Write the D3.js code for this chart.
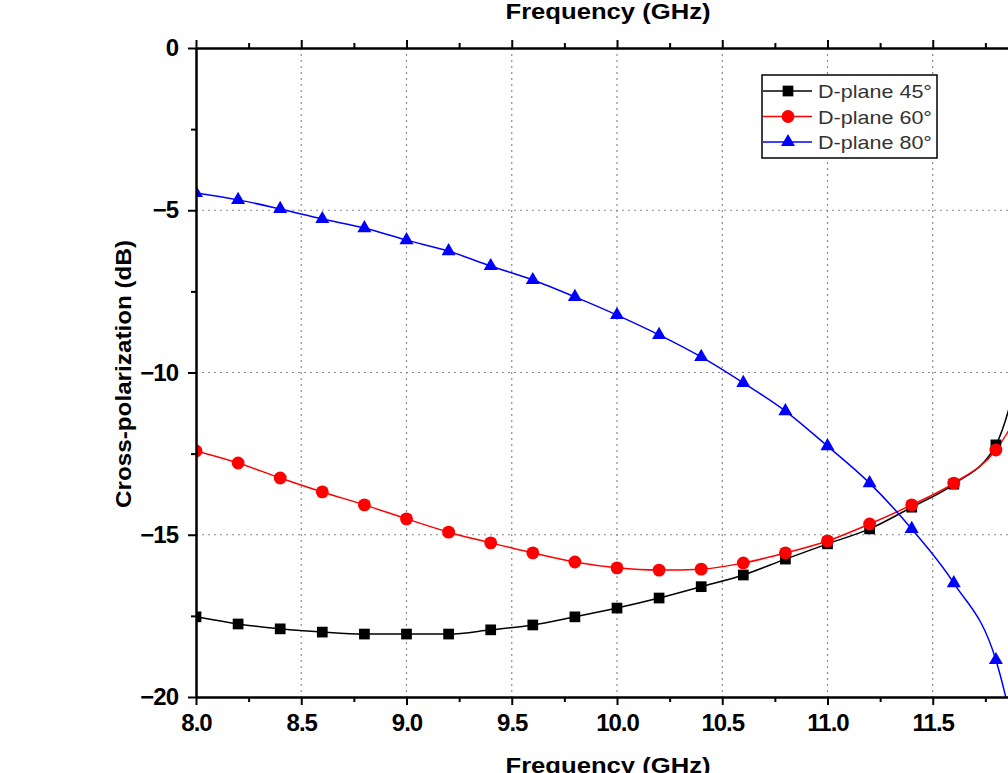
<!DOCTYPE html>
<html>
<head>
<meta charset="utf-8">
<script src="https://cdn.jsdelivr.net/npm/d3@7"></script>
<style>
  body { margin: 0; background: #fff; }
  svg { display: block; }
  text { font-family: "Liberation Sans", Arial, sans-serif; }
</style>
</head>
<body>
<svg id="chart" width="1008" height="773"></svg>
<script>
// frequency points (GHz)
const freqs = [8.0, 8.2, 8.4, 8.6, 8.8, 9.0, 9.2, 9.4, 9.6, 9.8, 10.0,
               10.2, 10.4, 10.6, 10.8, 11.0, 11.2, 11.4, 11.6, 11.8, 12.0];

// cross-polarization (dB)
const dplane45 = [-17.53, -17.75, -17.90, -18.00, -18.06, -18.06, -18.06, -17.93, -17.78, -17.53, -17.26,
                  -16.95, -16.60, -16.24, -15.75, -15.28, -14.82, -14.15, -13.44, -12.23, -7.0];
const dplane60 = [-12.42, -12.79, -13.25, -13.68, -14.08, -14.51, -14.92, -15.25, -15.56, -15.84, -16.02,
                  -16.09, -16.06, -15.87, -15.56, -15.19, -14.67, -14.08, -13.41, -12.39, -10.0];
const dplane80 = [-4.47, -4.68, -4.96, -5.27, -5.55, -5.92, -6.26, -6.72, -7.15, -7.67, -8.23,
                  -8.84, -9.52, -10.32, -11.19, -12.27, -13.41, -14.82, -16.49, -18.86, -25.0];

const seriesNames = ['D-plane 45°', 'D-plane 60°', 'D-plane 80°'];
const seriesColors = ['#000000', '#ff0000', '#0000ff'];
const seriesSymbols = [d3.symbolSquare, d3.symbolCircle, d3.symbolTriangle];

const xTicks = [8.0, 8.5, 9.0, 9.5, 10.0, 10.5, 11.0, 11.5, 12.0];
const yTicks = [0, -5, -10, -15, -20];

const svg = d3.select('#chart');
const mLeft = 196, mRight = 1038, mTop = 48, mBottom = 697;

const x = d3.scaleLinear().domain([8, 12]).range([mLeft, mRight]);
const y = d3.scaleLinear().domain([0, -20]).range([mTop, mBottom]);

const fontTick = 'bold 24px "Liberation Sans", Arial, sans-serif';
const fontTitle = 'bold 22px "Liberation Sans", Arial, sans-serif';

// grid
const grid = svg.append('g').attr('stroke', '#8a8a8a').attr('stroke-width', 1.2)
    .attr('stroke-dasharray', '2,4');
grid.selectAll('.gx').data(xTicks.slice(1, -1)).join('line')
    .attr('x1', d => x(d)).attr('x2', d => x(d))
    .attr('y1', mTop).attr('y2', mBottom);
grid.selectAll('.gy').data(yTicks.slice(1, -1)).join('line')
    .attr('x1', mLeft).attr('x2', mRight)
    .attr('y1', d => y(d)).attr('y2', d => y(d));

// clipped data area
svg.append('clipPath').attr('id', 'plot-clip')
    .append('rect').attr('x', mLeft).attr('y', mTop - 6)
    .attr('width', mRight - mLeft).attr('height', mBottom - mTop + 6);

const series = [dplane45, dplane60, dplane80];
const plot = svg.append('g').attr('clip-path', 'url(#plot-clip)');

const line = d3.line()
    .x((d, i) => x(freqs[i]))
    .y(d => y(d))
    .curve(d3.curveMonotoneX);

const symSize = [115, 130, 85];

series.forEach((vals, s) => {
    plot.append('path')
        .datum(vals)
        .attr('d', line)
        .attr('fill', 'none')
        .attr('stroke', seriesColors[s])
        .attr('stroke-width', 1.5);
});

series.forEach((vals, s) => {
    const sym = d3.symbol().type(seriesSymbols[s]).size(symSize[s]);
    plot.selectAll('.m' + s).data(vals).join('path')
        .attr('class', 'm' + s)
        .attr('transform', (d, i) => `translate(${x(freqs[i])},${y(d)})`)
        .attr('d', sym)
        .attr('fill', seriesColors[s]);
});

// axes
const xBottom = d3.axisBottom(x).tickValues(xTicks).tickSize(8).tickSizeOuter(0)
    .tickFormat(d => d < 12 ? d3.format('.1f')(d) : '');
const xBottomMinor = d3.axisBottom(x).tickValues(d3.range(8.25, 12, 0.5)).tickSize(5)
    .tickSizeOuter(0).tickFormat('');
const xTop = d3.axisTop(x).tickValues(xTicks).tickSize(8).tickSizeOuter(0).tickFormat('');
const xTopMinor = d3.axisTop(x).tickValues(d3.range(8.25, 12, 0.5)).tickSize(5)
    .tickSizeOuter(0).tickFormat('');
const yLeft = d3.axisLeft(y).tickValues(yTicks).tickSize(8).tickSizeOuter(0).tickFormat(d3.format('d'));
const yLeftMinor = d3.axisLeft(y).tickValues(d3.range(-2.5, -20, -5)).tickSize(5)
    .tickSizeOuter(0).tickFormat('');
const yRight = d3.axisRight(y).tickValues(yTicks).tickSize(8).tickSizeOuter(0).tickFormat('');

function styleAxis(g) {
    g.select('.domain').attr('stroke', '#000').attr('stroke-width', 2);
    g.selectAll('.tick line').attr('stroke', '#000').attr('stroke-width', 2);
    g.selectAll('.tick text').style('font', fontTick).attr('fill', '#000')
        .attr('letter-spacing', '-1px');
}

svg.append('g').attr('transform', `translate(0,${mBottom})`).call(xBottom).call(styleAxis)
    .selectAll('.tick text').attr('y', 34).attr('dy', null);
svg.append('g').attr('transform', `translate(0,${mBottom})`).call(xBottomMinor).call(styleAxis);
svg.append('g').attr('transform', `translate(0,${mTop})`).call(xTop).call(styleAxis);
svg.append('g').attr('transform', `translate(0,${mTop})`).call(xTopMinor).call(styleAxis);
svg.append('g').attr('transform', `translate(${mLeft},0)`).call(yLeft).call(styleAxis)
    .selectAll('.tick text').attr('x', -18);
svg.append('g').attr('transform', `translate(${mLeft},0)`).call(yLeftMinor).call(styleAxis);
svg.append('g').attr('transform', `translate(${mRight},0)`).call(yRight).call(styleAxis);

// titles
svg.append('text').attr('x', 608).attr('y', 19)
    .attr('text-anchor', 'middle')
    .style('font', fontTitle)
    .attr('textLength', 205).attr('lengthAdjust', 'spacingAndGlyphs')
    .text('Frequency (GHz)');
svg.append('text').attr('x', 608).attr('y', 773)
    .attr('text-anchor', 'middle')
    .style('font', fontTitle)
    .attr('textLength', 205).attr('lengthAdjust', 'spacingAndGlyphs')
    .text('Frequency (GHz)');
svg.append('text')
    .attr('transform', `translate(131,374) rotate(-90)`)
    .attr('text-anchor', 'middle')
    .style('font', fontTitle)
    .attr('textLength', 268).attr('lengthAdjust', 'spacingAndGlyphs')
    .text('Cross-polarization (dB)');

// legend
const legend = svg.append('g').attr('transform', 'translate(762,75)');
legend.append('rect').attr('width', 175).attr('height', 83)
    .attr('fill', '#fff').attr('stroke', '#000').attr('stroke-width', 1.5);
seriesNames.forEach((name, s) => {
    const row = legend.append('g').attr('transform', `translate(0,${16 + s * 25.5})`);
    row.append('line').attr('x1', 1).attr('x2', 50).attr('y1', 0).attr('y2', 0)
        .attr('stroke', seriesColors[s]).attr('stroke-width', 1.5);
    row.append('path').attr('transform', 'translate(26,0)')
        .attr('d', d3.symbol().type(seriesSymbols[s]).size(symSize[s]))
        .attr('fill', seriesColors[s]);
    row.append('text').attr('x', 56).attr('y', 7)
        .style('font', '19px "Liberation Sans", Arial, sans-serif')
        .attr('fill', '#333')
        .attr('textLength', 114).attr('lengthAdjust', 'spacingAndGlyphs')
        .text(name);
});
</script>
</body>
</html>
